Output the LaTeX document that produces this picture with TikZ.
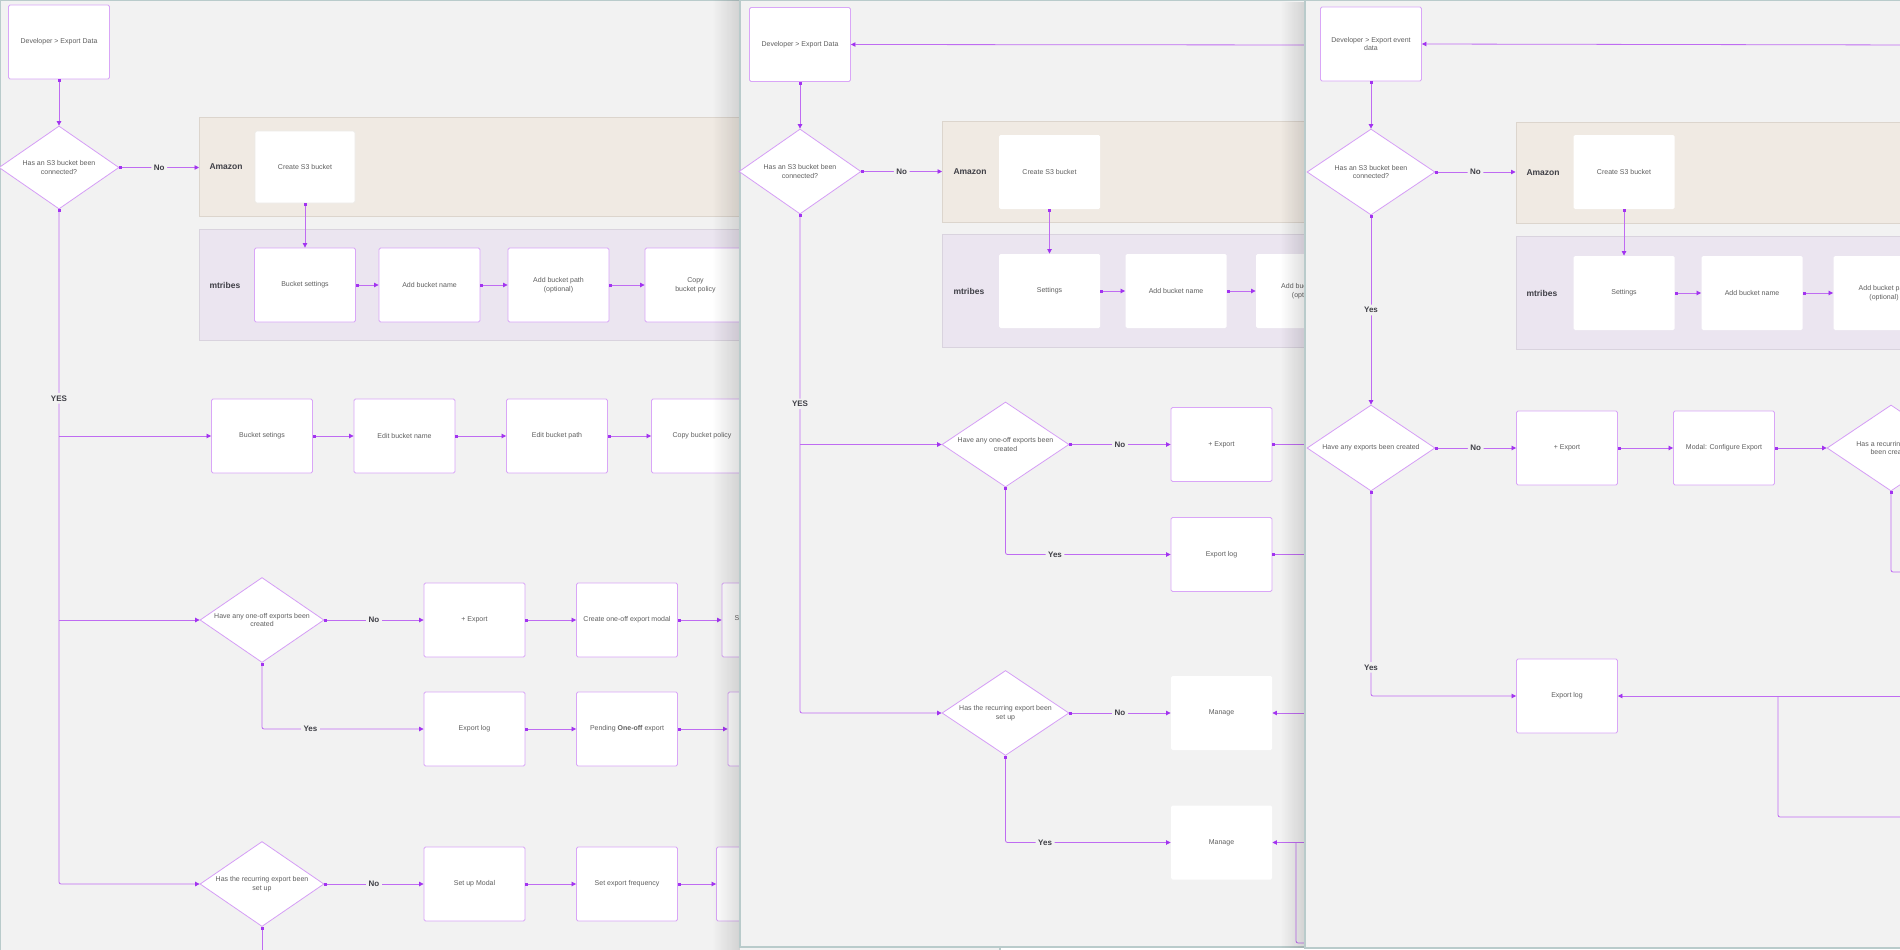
\documentclass[tikz,border=0pt]{standalone}
\usepackage{fontspec}
\setmainfont{Liberation Sans}
\usepackage{xcolor}
\usetikzlibrary{shapes.geometric}
\usetikzlibrary{arrows.meta}
\usetikzlibrary{positioning}
\usetikzlibrary{fadings}

\definecolor{bgcol}{HTML}{F2F2F2}
\definecolor{panelline}{HTML}{B9CBCB}
\definecolor{amzfill}{HTML}{F0EAE3}
\definecolor{amzline}{HTML}{DCD5CD}
\definecolor{mtbfill}{HTML}{EBE5F0}
\definecolor{mtbline}{HTML}{D9D3DE}
\definecolor{boxline}{HTML}{D9A6F7}
\definecolor{flowcol}{HTML}{BF6CF2}
\definecolor{tipcol}{HTML}{A233F0}
\definecolor{boxtext}{HTML}{5F5F5F}
\definecolor{lbltext}{HTML}{3F3F46}

\begin{document}
\begin{tikzpicture}[x=1pt, y=-1pt,
  stepbox/.style={rectangle, draw=boxline, line width=0.9pt, fill=white,
    rounded corners=1.5pt, minimum width=101pt, minimum height=74pt,
    inner sep=2pt, align=center, text=boxtext, font=\fontsize{7}{8.6}\selectfont},
  plainbox/.style={stepbox, draw=none},
  beigebox/.style={stepbox, draw=amzline!50},
  decision/.style={diamond, aspect=1.5, draw=boxline!85!flowcol, line width=0.8pt, fill=white,
    minimum width=124pt, minimum height=85pt, inner sep=0pt, align=center,
    text=boxtext, font=\fontsize{7}{8.6}\selectfont},
  amazonlane/.style={rectangle, draw=amzline, line width=1pt, fill=amzfill,
    inner sep=0pt, anchor=north west},
  mtribeslane/.style={rectangle, draw=mtbline, line width=1pt, fill=mtbfill,
    inner sep=0pt, anchor=north west},
  lanename/.style={anchor=west, text=lbltext, font=\fontsize{8.5}{10}\selectfont\bfseries},
  answer/.style={fill=bgcol, text=lbltext, inner sep=2.5pt,
    font=\fontsize{8}{9}\selectfont\bfseries},
  flow/.style={draw=flowcol, line width=0.8pt, rounded corners=2pt,
    {Square[length=2.6pt,width=2.6pt,color=tipcol]}-{Triangle[length=4.5pt,width=4.5pt,color=tipcol]}},
  branch/.style={flow, -{Triangle[length=4.5pt,width=4.5pt,color=tipcol]}},
  tail/.style={flow, {Square[length=2.6pt,width=2.6pt,color=tipcol]}-},
  bare/.style={flow, -},
  panel/.style={draw=panelline, line width=1.2pt, fill=bgcol}]

\useasboundingbox (0,0) rectangle (1900,950);
\clip (0,0) rectangle (1900,950);

% first screen
\draw[panel] (0.6,0.6) rectangle (1000,1000);

\node[stepbox] (dev1) at (59,42) {Developer > Export Data};
\node[decision, minimum width=120pt, minimum height=83pt] (q1) at (59,167.5) {Has an S3 bucket been\\connected?};

\node[amazonlane, minimum width=700pt, minimum height=99pt] (amz1) at (199,117) {};
\node[lanename] (amz1name) at (206,167) {Amazon};
\node[beigebox, minimum width=100pt, minimum height=72pt] (s3a) at (305,167) {Create S3 bucket};
\node[mtribeslane, minimum width=700pt, minimum height=111pt] (mtb1) at (199,229) {};
\node[lanename] (mtb1name) at (206,285) {mtribes};
\node[stepbox] (set1) at (305,285) {Bucket settings};
\node[stepbox] (name1) at (429.5,285) {Add bucket name};
\node[stepbox] (path1) at (558.5,285) {Add bucket path\\(optional)};
\node[stepbox] (copy1) at (695.5,285) {Copy\\bucket policy};

\node[stepbox] (bset1) at (262,436) {Bucket setings};
\node[stepbox] (ename1) at (404.5,436) {Edit bucket name};
\node[stepbox] (epath1) at (557,436) {Edit bucket path};
\node[stepbox] (ecopy1) at (702,436) {Copy bucket policy};

\node[decision] (q2) at (262,620) {Have any one-off exports been\\created};
\node[stepbox] (exp1) at (474.5,620) {+ Export};
\node[stepbox] (modal1) at (627,620) {Create one-off export modal};
\node[stepbox] (next1) at (772.5,620) {};
\node[anchor=west, text=boxtext, font=\fontsize{7}{8.6}\selectfont] (next1s) at (731,618) {S};
\node[stepbox] (log1) at (474.5,729) {Export log};
\node[stepbox] (pend1) at (627,729) {Pending \textbf{One-off} export};
\node[stepbox] (pnext1) at (778.5,729) {};

\node[decision] (q3) at (262,884) {Has the recurring export been\\set up};
\node[stepbox] (setup1) at (474.5,884) {Set up Modal};
\node[stepbox] (freq1) at (627,884) {Set export frequency};
\node[stepbox] (fnext1) at (767,884) {};
\coordinate (q3end) at (262,960);

\draw[flow] (dev1) -- (q1);
\draw[flow] (q1.east) -- node[answer]{No} (amz1.west |- q1.east);
\draw[flow] (s3a) -- (set1);
\draw[flow] (set1) -- (name1);
\draw[flow] (name1) -- (path1);
\draw[flow] (path1) -- (copy1);
\draw[flow] (q1.south) |- node[answer, pos=0.14]{YES} (q3.west);
\draw[branch] (q1.south |- bset1) -- (bset1.west);
\draw[branch] (q1.south |- q2) -- (q2.west);
\draw[flow] (bset1) -- (ename1);
\draw[flow] (ename1) -- (epath1);
\draw[flow] (epath1) -- (ecopy1);
\draw[flow] (q2) -- node[answer]{No} (exp1);
\draw[flow] (exp1) -- (modal1);
\draw[flow] (modal1) -- (next1);
\draw[flow] (q2.south) |- node[answer, pos=0.65]{Yes} (log1.west);
\draw[flow] (log1) -- (pend1);
\draw[flow] (pend1) -- (pnext1);
\draw[flow] (q3) -- node[answer]{No} (setup1);
\draw[flow] (setup1) -- (freq1);
\draw[flow] (freq1) -- (fnext1);
\draw[tail] (q3.south) -- (q3end);

% second screen
\fill[black, opacity=0.13, path fading=west] (712,0) rectangle (740,950);
\draw[panel] (740,0.6) rectangle (1400,947);

\node[stepbox] (dev2) at (800,44.5) {Developer > Export Data};
\node[decision, minimum width=122pt] (q1b) at (800,171.5) {Has an S3 bucket been\\connected?};

\node[amazonlane, minimum width=500pt, minimum height=101pt] (amz2) at (942,121) {};
\node[lanename] (amz2name) at (950,172) {Amazon};
\node[plainbox] (s3b) at (1049.5,172) {Create S3 bucket};
\node[mtribeslane, minimum width=500pt, minimum height=113pt] (mtb2) at (942,234) {};
\node[lanename] (mtb2name) at (950,291) {mtribes};
\node[plainbox] (set2) at (1049.5,291) {Settings};
\node[plainbox] (name2) at (1176,291) {Add bucket name};
\node[plainbox] (path2) at (1306.5,291) {Add bucket path\\(optional)};

\node[decision, minimum width=127pt] (q2b) at (1005.5,444.5) {Have any one-off exports been\\created};
\node[stepbox] (exp2) at (1221.5,444.5) {+ Export};
\node[stepbox] (log2) at (1221.5,554.5) {Export log};
\node[decision, minimum width=127pt] (q3b) at (1005.5,713) {Has the recurring export been\\set up};
\node[plainbox] (man2a) at (1221.5,713) {Manage};
\node[plainbox] (man2b) at (1221.5,842.5) {Manage};

\coordinate (dev2in) at (1330,45);
\coordinate (exp2out) at (1330,444.5);
\coordinate (log2out) at (1330,554.5);
\coordinate (man2ain) at (1330,713);
\coordinate (man2bin) at (1330,842.5);
\coordinate (man2blow) at (1330,943);
\coordinate (man2bjoin) at (1296,842.5);

\draw[branch] (dev2in) -- (dev2.east);
\draw[flow] (dev2) -- (q1b);
\draw[flow] (q1b.east) -- node[answer]{No} (amz2.west |- q1b.east);
\draw[flow] (s3b) -- (set2);
\draw[flow] (set2) -- (name2);
\draw[flow] (name2) -- (path2);
\draw[flow] (q1b.south) |- node[answer, pos=0.19]{YES} (q3b.west);
\draw[branch] (q1b.south |- q2b) -- (q2b.west);
\draw[flow] (q2b) -- node[answer]{No} (exp2);
\draw[flow] (q2b.south) |- node[answer, pos=0.65]{Yes} (log2.west);
\draw[tail] (exp2.east) -- (exp2out);
\draw[tail] (log2.east) -- (log2out);
\draw[flow] (q3b) -- node[answer]{No} (man2a);
\draw[flow] (q3b.south) |- node[answer, pos=0.62]{Yes} (man2b.west);
\draw[branch] (man2ain) -- (man2a.east);
\draw[branch] (man2bin) -- (man2b.east);
\draw[bare] (man2blow) -| (man2bjoin);

% third screen
\fill[black, opacity=0.13, path fading=west] (1280,0) rectangle (1305,947);
\draw[panel] (1305,0.6) rectangle (1920,948);

\node[stepbox] (dev3) at (1371,44) {Developer > Export event\\data};
\node[decision, minimum width=128pt, minimum height=86pt] (q1c) at (1371,172) {Has an S3 bucket been\\connected?};

\node[amazonlane, minimum width=500pt, minimum height=101pt] (amz3) at (1515.5,122) {};
\node[lanename] (amz3name) at (1523,172.5) {Amazon};
\node[plainbox] (s3c) at (1624,172) {Create S3 bucket};
\node[mtribeslane, minimum width=500pt, minimum height=113pt] (mtb3) at (1515.5,236) {};
\node[lanename] (mtb3name) at (1523,293) {mtribes};
\node[plainbox] (set3) at (1624,293) {Settings};
\node[plainbox] (name3) at (1752,293) {Add bucket name};
\node[plainbox] (path3) at (1884,293) {Add bucket path\\(optional)};

\node[decision, minimum width=128pt, minimum height=86pt] (q2c) at (1371,448) {Have any exports been created};
\node[stepbox] (exp3) at (1567,448) {+ Export};
\node[stepbox] (modal3) at (1724,448) {Modal: Configure Export};
\node[decision, minimum width=128pt, minimum height=86pt] (q3c) at (1891,448) {Has a recurring export\\been created};
\node[stepbox] (log3) at (1567,696) {Export log};

\coordinate (dev3in) at (1920,45);
\coordinate (q3cout) at (1920,572);
\coordinate (log3in) at (1920,696);
\coordinate (log3low) at (1920,817);
\coordinate (log3join) at (1778,696);

\draw[branch] (dev3in) -- (dev3.east);
\draw[flow] (dev3) -- (q1c);
\draw[flow] (q1c.east) -- node[answer]{No} (amz3.west |- q1c.east);
\draw[flow] (s3c) -- (set3);
\draw[flow] (set3) -- (name3);
\draw[flow] (name3) -- (path3);
\draw[flow] (q1c) -- node[answer]{Yes} (q2c);
\draw[flow] (q2c) -- node[answer]{No} (exp3);
\draw[flow] (exp3) -- (modal3);
\draw[flow] (modal3) -- (q3c);
\draw[flow] (q2c.south) |- node[answer, pos=0.43]{Yes} (log3.west);
\draw[tail] (q3c.south) |- (q3cout);
\draw[branch] (log3in) -- (log3.east);
\draw[bare] (log3low) -| (log3join);
\end{tikzpicture}
\end{document}
